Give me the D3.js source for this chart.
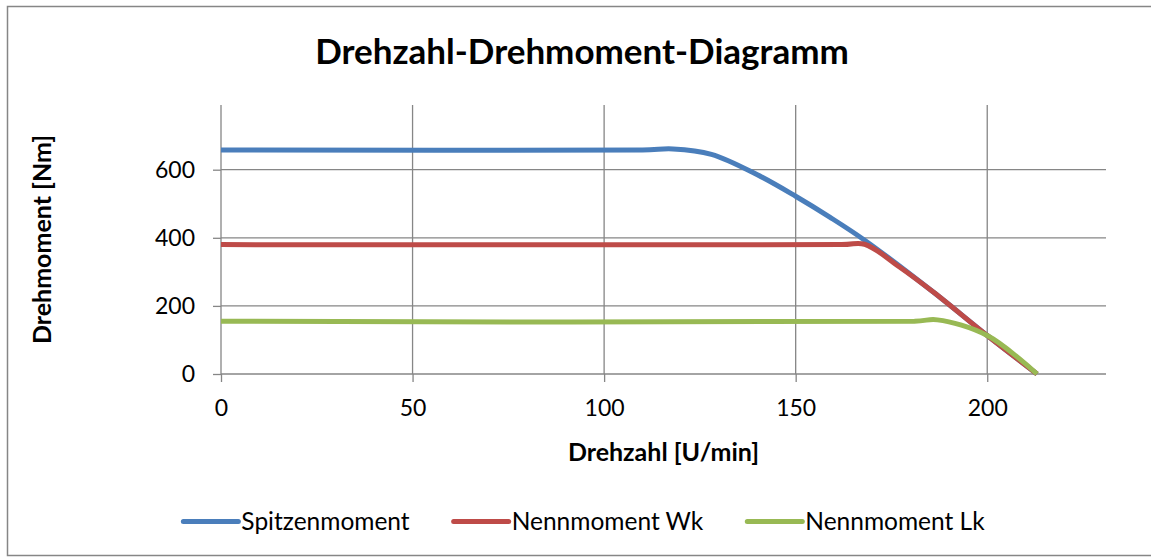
<!DOCTYPE html>
<html><head><meta charset="utf-8">
<script src="https://cdn.jsdelivr.net/npm/d3@7"></script>
<style>
html,body{margin:0;padding:0;background:#fff;}
svg{display:block;font-family:Lato,"Open Sans",sans-serif;}
</style></head>
<body><svg id="c" width="1151" height="558"></svg>
<script>
// ---- data ----
const title = "Drehzahl-Drehmoment-Diagramm";
const xTitle = "Drehzahl [U/min]";
const yTitle = "Drehmoment [Nm]";
const seriesNames = ["Spitzenmoment", "Nennmoment Wk", "Nennmoment Lk"];
const xTicks = [0, 50, 100, 150, 200];
const yTicks = [0, 200, 400, 600];
const spitzenX = [0, 110, 118, 128, 140, 150, 159, 168, 186, 200, 213];
const spitzenY = [658, 658, 661, 645, 585, 522, 460, 393, 240, 113, 0];
const wkX = [0, 162, 168, 177, 186, 200, 213];
const wkY = [380, 380, 381, 315, 240, 113, 0];
const lkX = [0, 181, 187, 200, 213];
const lkY = [155, 155, 159, 113, 0];
const colors = ["#4A7EBB", "#BE4B48", "#98B954"];

// ---- layout ----
const svg = d3.select("#c");
const W = 1151, H = 558;
const plot = {l: 221, r: 1106, t: 105, b: 374};
const x = d3.scaleLinear().domain([0, 231]).range([plot.l, plot.r]);
const y = d3.scaleLinear().domain([0, 790]).range([plot.b, plot.t]);

svg.append("rect").attr("x", 7.5).attr("y", 6.5).attr("width", W).attr("height", 549)
  .attr("fill", "#fff").attr("stroke", "#868686").attr("stroke-width", 1.5);

const grid = "#868686";
// gridlines
svg.append("g").selectAll("line").data(xTicks).join("line")
  .attr("x1", d => x(d)).attr("x2", d => x(d)).attr("y1", plot.t).attr("y2", plot.b)
  .attr("stroke", grid).attr("stroke-width", 1.3);
svg.append("g").selectAll("line").data(yTicks).join("line")
  .attr("x1", plot.l).attr("x2", plot.r).attr("y1", d => y(d)).attr("y2", d => y(d))
  .attr("stroke", grid).attr("stroke-width", 1.3);

// axes
const ax = svg.append("g").attr("transform", `translate(0,${plot.b})`)
  .call(d3.axisBottom(x).tickValues(xTicks).tickSize(8).tickPadding(18).tickFormat(d3.format("d")));
const ay = svg.append("g").attr("transform", `translate(${plot.l},0)`)
  .call(d3.axisLeft(y).tickValues(yTicks).tickSize(8).tickPadding(18).tickFormat(d3.format("d")));
[ax, ay].forEach(g => {
  g.select(".domain").remove();
  g.selectAll(".tick line").attr("stroke", grid).attr("stroke-width", 1.3);
  g.selectAll(".tick text").attr("fill", "#000").style("font-size", "23px")
    .style("font-family", "Lato");
});

// series
const series = [
  {name: seriesNames[0], xs: spitzenX, ys: spitzenY, color: colors[0]},
  {name: seriesNames[1], xs: wkX, ys: wkY, color: colors[1]},
  {name: seriesNames[2], xs: lkX, ys: lkY, color: colors[2]}
];
const line = d3.line().x(d => x(d[0])).y(d => y(d[1])).curve(d3.curveCatmullRom.alpha(0.5));
svg.append("g").selectAll("path").data(series).join("path")
  .attr("d", s => line(s.xs.map((v, i) => [v, s.ys[i]])))
  .attr("fill", "none").attr("stroke", s => s.color).attr("stroke-width", 5)
  .attr("stroke-linejoin", "round");

// titles
svg.append("text").attr("x", 582).attr("y", 64).attr("text-anchor", "middle")
  .style("font-size", "35px").style("font-weight", "bold").text(title);
svg.append("text").attr("x", (plot.l + plot.r) / 2).attr("y", 461).attr("text-anchor", "middle")
  .style("font-size", "25px").style("font-weight", "bold").text(xTitle);
svg.append("text").attr("transform", `translate(51,${(plot.t + plot.b) / 2}) rotate(-90)`)
  .attr("text-anchor", "middle")
  .style("font-size", "25px").style("font-weight", "bold").text(yTitle);

// legend
const lg = svg.append("g");
const items = lg.selectAll("g").data(series).join("g");
items.append("line").attr("x1", 0).attr("x2", 55).attr("y1", 0).attr("y2", 0)
  .attr("stroke", d => d.color).attr("stroke-width", 5).attr("stroke-linecap", "round");
items.append("text").attr("x", 58).attr("y", 8.5).style("font-size", "24.5px").text(d => d.name);
let cx = 0;
const offs = [];
items.each(function() {
  offs.push(cx);
  cx += 58 + this.querySelector("text").getComputedTextLength() + 44;
});
const total = cx - 44;
const start = 584 - total / 2;
items.attr("transform", (d, i) => `translate(${start + offs[i]},521.5)`);
</script></body></html>
